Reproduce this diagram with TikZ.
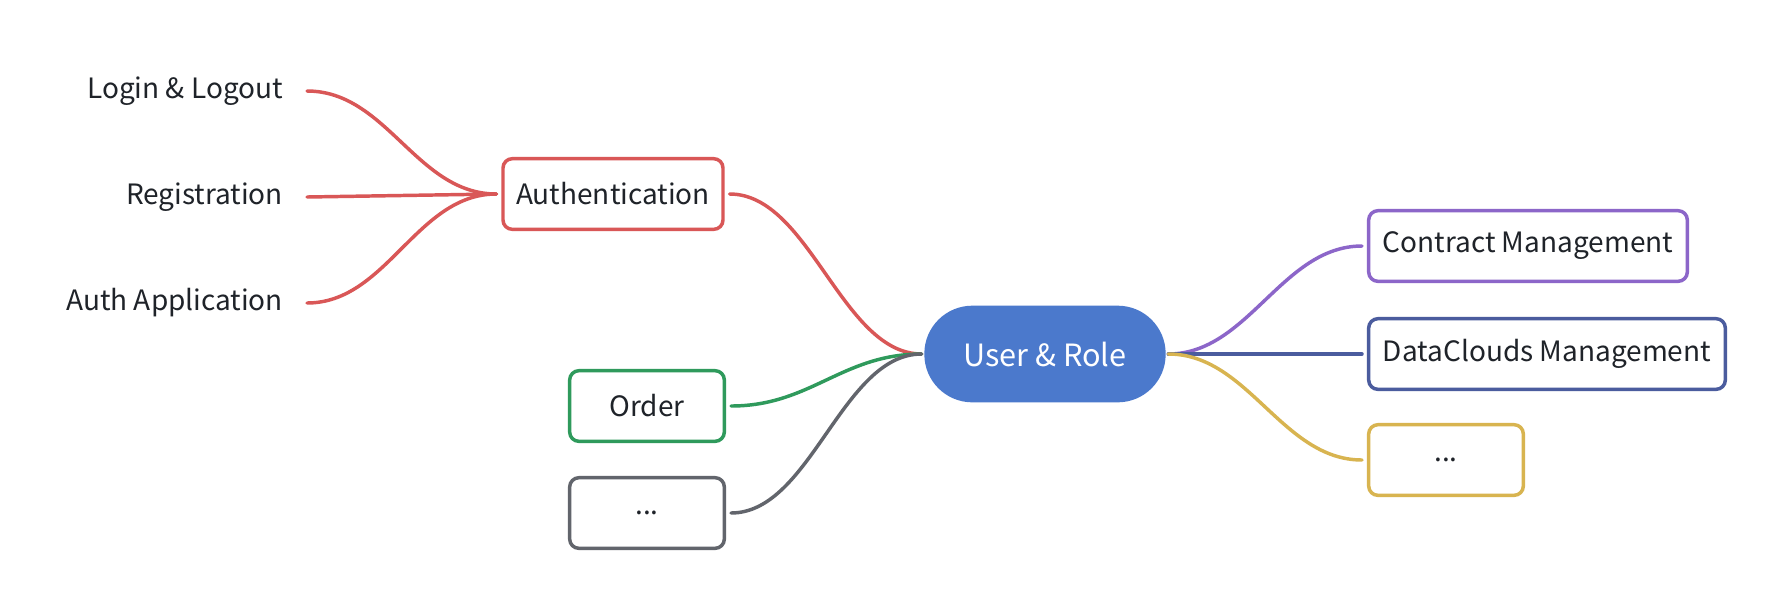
\documentclass[tikz,border=0pt]{standalone}
\usepackage{fontspec}
\setmainfont{Noto Sans CJK SC}
\definecolor{cred}{HTML}{D95757}
\definecolor{cgreen}{HTML}{2F9A5C}
\definecolor{cgray}{HTML}{62656C}
\definecolor{cblue}{HTML}{4B79CC}
\definecolor{cpurple}{HTML}{8C66C9}
\definecolor{cnavy}{HTML}{4B5C9E}
\definecolor{cyellow}{HTML}{D8B450}
\definecolor{ctext}{HTML}{1F2329}
\tikzset{
  lbl/.style={font=\fontsize{21}{25}\selectfont, text=ctext},
  leaf/.style={lbl, inner sep=0pt, outer xsep=18pt, anchor=east},
  topic/.style={lbl, draw=#1, line width=2.6pt, rounded corners=7pt,
    minimum height=53pt, inner xsep=6pt, outer sep=5pt, fill=white},
  central/.style={fill=cblue, text=white, font=\fontsize{23}{27}\selectfont,
    rounded corners=36pt, minimum width=181pt, minimum height=72.5pt, outer sep=2pt},
  link/.style={line width=2.6pt, draw=#1, line cap=round},
}
\begin{document}
\begin{tikzpicture}[x=0.75pt,y=-0.75pt]
\useasboundingbox[fill=white] (0,0) rectangle (1774,594);
% central
\node[central] (ur) at (1045,354) {User \& Role};
% left topics
\node[topic=cred, minimum width=165pt] (auth) at (613,194) {Authentication};
\node[topic=cgreen, minimum width=116pt] (order) at (647,406) {Order};
\node[topic=cgray, minimum width=116pt] (more1) at (647,513) {...};
% right topics
\node[topic=cpurple, minimum width=239pt] (contract) at (1528,246) {Contract Management};
\node[topic=cnavy, minimum width=267.5pt] (data) at (1547,354) {DataClouds Management};
\node[topic=cyellow, minimum width=116pt] (more2) at (1446,460) {...};
% leaves
\node[leaf] (login) at (307,91) {Login \& Logout};
\node[leaf] (reg) at (307,197) {Registration};
\node[leaf] (app) at (307,303) {Auth Application};
% connectors
\draw[link=cred] (login.east) .. controls +(60pt,0) and +(-60pt,0) .. (auth.west);
\draw[link=cred] (reg.east) -- (auth.west);
\draw[link=cred] (app.east) .. controls +(60pt,0) and +(-60pt,0) .. (auth.west);
\draw[link=cred] (auth.east) .. controls +(60pt,0) and +(-60pt,0) .. (ur.west);
\draw[link=cgreen] (order.east) .. controls +(60pt,0) and +(-60pt,0) .. (ur.west);
\draw[link=cgray] (more1.east) .. controls +(60pt,0) and +(-60pt,0) .. (ur.west);
\draw[link=cpurple] (ur.east) .. controls +(60pt,0) and +(-60pt,0) .. (contract.west);
\draw[link=cnavy] (ur.east) -- (data.west);
\draw[link=cyellow] (ur.east) .. controls +(60pt,0) and +(-60pt,0) .. (more2.west);
\end{tikzpicture}
\end{document}
